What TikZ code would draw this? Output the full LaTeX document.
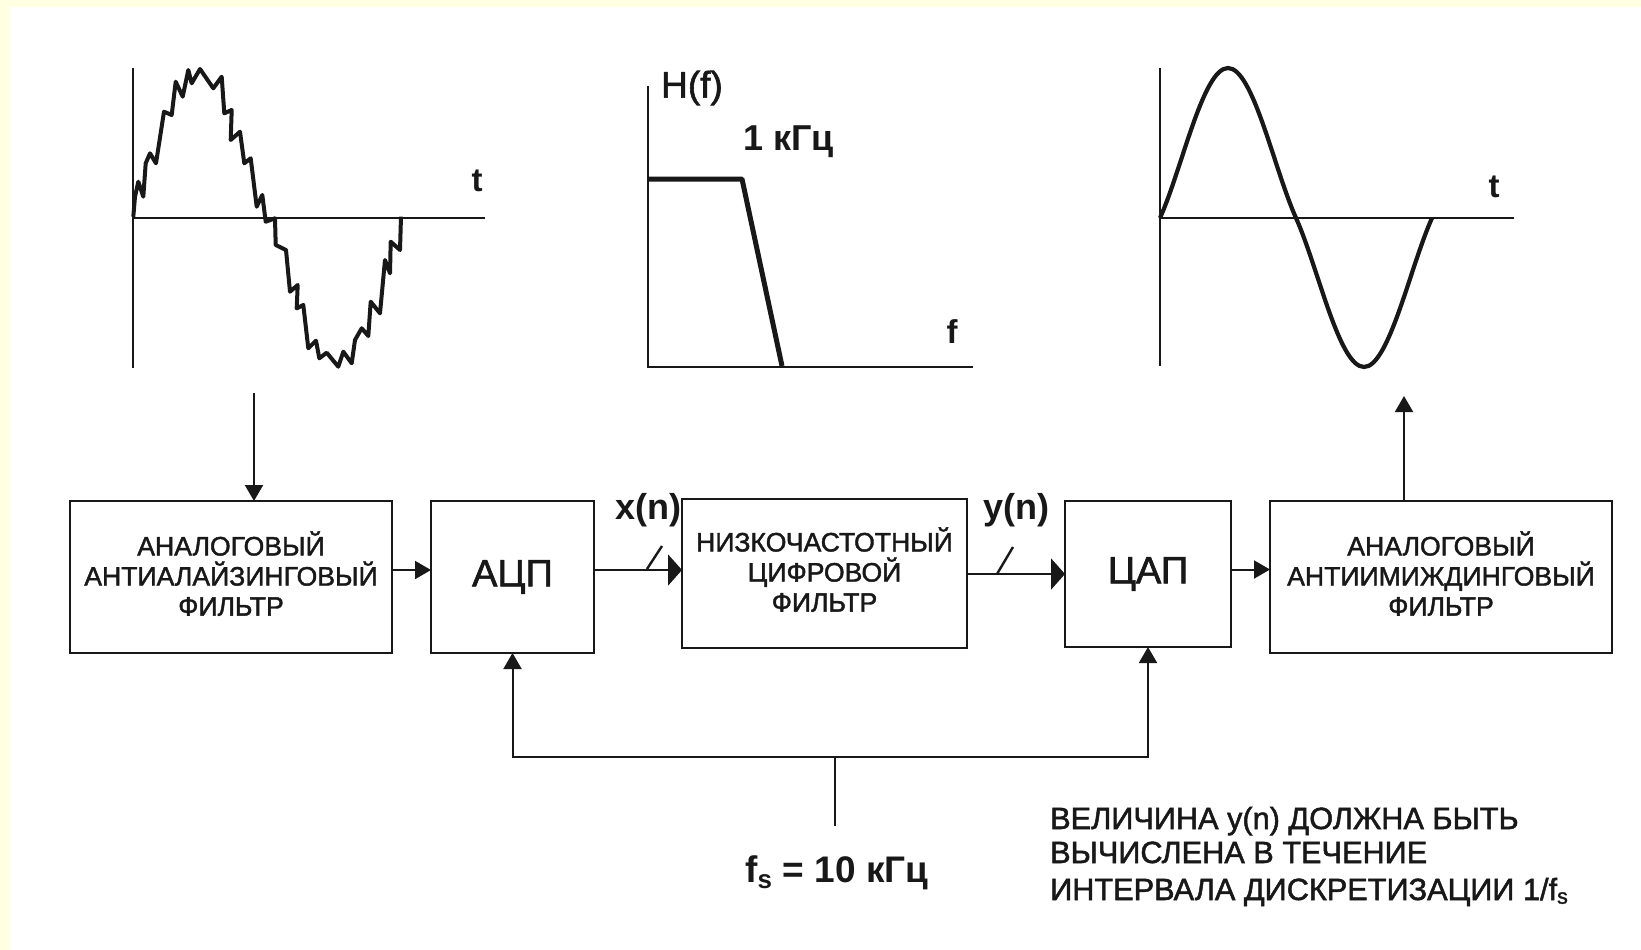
\documentclass[tikz,border=0pt]{standalone}
\usepackage{fontspec}
\setmainfont{Liberation Sans}
\newfontfamily\semib[FakeBold=1.6]{Liberation Sans}
\usetikzlibrary{arrows.meta,calc}
\definecolor{bgyellow}{RGB}{255,255,226}
\definecolor{inkc}{RGB}{24,24,24}
\newcommand{\fsz}[1]{\fontsize{#1}{#1}\selectfont}
\tikzset{
  x=1pt,y=-1pt,
  every node/.style={text=inkc},
  boxn/.style={draw=inkc,line width=2pt,fill=white,inner sep=0pt,outer sep=0pt,align=center},
  small/.style={font=\fsz{26.6}\semib,text depth=7pt},
  axisl/.style={draw=inkc,line width=2pt},
  curvel/.style={draw=inkc,line width=4.2pt,line join=round},
  conn/.style={draw=inkc,line width=2pt,-{Triangle[length=16pt,width=18pt]}},
  heavy/.style={draw=inkc,line width=2pt,-{Triangle[length=14pt,width=31pt]}},
  plainl/.style={draw=inkc,line width=2pt},
  tick/.style={draw=inkc,line width=2.4pt},
  lab/.style={font=\fsz{36}\bfseries,inner sep=0pt},
  axlab/.style={font=\fsz{33}\bfseries,inner sep=0pt},
  note/.style={font=\fsz{30.7}\semib,inner sep=0pt,anchor=base west},
}
\begin{document}
\begin{tikzpicture}[x=1pt,y=-1pt]
\useasboundingbox (0,0) rectangle (1641,950);
\fill[bgyellow] (0,0) rectangle (1641,950);
\fill[white] (10,7) rectangle (1641,950);
% first graph
\draw[axisl] (133,68) -- (133,368);
\draw[axisl] (133,218) -- (485,218);
\draw[curvel,line width=4pt] plot coordinates {
(133.3,216.7)(135,196.7)(138.3,181.7)(143.3,196.7)(145.7,163.3)(150,153.3)(156,163.3)
(164,111.7)(171.7,115)(175.7,81.7)(182.7,96.7)(188.3,70)(191.7,83.3)(200,69)(213.3,88.3)
(221.7,76.7)(224.3,113.3)(231.7,110)(230.7,140)(240,131.7)(244.3,163.3)(250.7,158.3)
(256.7,206.7)(262.3,195)(265.7,221.7)(275,218.3)(275.7,245)(286,250)(290,291.7)(297.7,285)
(296.7,308.3)(303.3,305)(308.3,348.3)(316,340.7)(319.3,358.3)(326.7,352.7)(338.3,366.7)
(343.3,351.7)(351.7,363.3)(355,340)(361.7,328.3)(368.3,336)(370.7,301.7)(380,313.3)
(385,260)(390,273.3)(390.7,241.7)(400,250)(401,216.7)};
\node[axlab] (t1) at (477,181) {t};
% second graph
\draw[axisl] (648,86) -- (648,366.5) -- (973,366.5);
\draw[curvel,line width=5pt] (648,179) -- (742,179) -- (782,366);
\node[font=\fsz{37}\semib,inner sep=0pt,anchor=west] (hf) at (661,88) {H(f)};
\node[lab,anchor=west] (kc) at (743,142) {1 кГц};
\node[axlab] (ff) at (952,332) {f};
% third graph
\draw[axisl] (1160,68) -- (1160,366);
\draw[axisl] (1160,218) -- (1514,218);
\draw[curvel] (1160,218) .. controls (1182,169) and (1203,68) .. (1228,68)
  .. controls (1253,68) and (1274,169) .. (1296,218)
  .. controls (1318,267) and (1339,367) .. (1364,367)
  .. controls (1389,367) and (1410,267) .. (1432,218);
\node[axlab] (t3) at (1494,187) {t};
% boxes
\node[boxn,small,minimum width=322pt,minimum height=152pt] (b1) at (231,577)
  {АНАЛОГОВЫЙ\\[3.5pt]АНТИАЛАЙЗИНГОВЫЙ\\[3.5pt]ФИЛЬТР};
\node[boxn,minimum width=163pt,minimum height=152pt,font=\fsz{38}\semib] (adc) at (512.5,577) {АЦП};
\node[boxn,small,minimum width=285pt,minimum height=149pt] (lpf) at (824.5,573)
  {НИЗКОЧАСТОТНЫЙ\\[3.5pt]ЦИФРОВОЙ\\[3.5pt]ФИЛЬТР};
\node[boxn,minimum width=166pt,minimum height=146pt,font=\fsz{38}\semib] (dac) at (1148,574) {ЦАП};
\node[boxn,small,minimum width=342pt,minimum height=152pt] (b5) at (1441,577)
  {АНАЛОГОВЫЙ\\[3.5pt]АНТИИМИЖДИНГОВЫЙ\\[3.5pt]ФИЛЬТР};
% connectors
\coordinate (inp) at (254,393);
\coordinate (outp) at (1404,396);
\coordinate (stem) at (835,826);
\coordinate (junc) at (835,757);
\draw[conn] (inp) -- (inp|-b1.north);
\draw[conn] ($(b1.east)+(0,7pt)$) -- ($(adc.west)+(0,7pt)$);
\draw[heavy] ($(adc.east)+(0,7pt)$) coordinate (xs) -- (lpf.west|-xs);
\draw[heavy] (lpf.east) ++(0,-1pt) coordinate (ys) -- (dac.west|-ys);
\draw[conn] ($(dac.east)+(0,4.5pt)$) coordinate (ds) -- (b5.west|-ds);
\draw[conn] (outp|-b5.north) -- (outp);
\draw[plainl] (stem) -- (junc);
\draw[conn] (junc) -| (adc.south);
\draw[conn] (junc) -| (dac.south);
% slashes
\draw[tick] (647,569) coordinate (s1a) -- (662,546) coordinate (s1b);
\draw[tick] (997,574) coordinate (s2a) -- (1013,547) coordinate (s2b);
% labels
\node[lab,anchor=west] (xn) at (615,510) {x(n)};
\node[lab,anchor=west] (yn) at (983,510) {y(n)};
\node[font=\fsz{37}\bfseries,inner sep=0pt,anchor=west] (fs) at (745,873) {f\textsubscript{s} = 10 кГц};
\node[note] (n1) at (1050,829) {ВЕЛИЧИНА y(n) ДОЛЖНА БЫТЬ};
\node[note] (n2) at (1050,863) {ВЫЧИСЛЕНА В ТЕЧЕНИЕ};
\node[note] (n3) at (1050,900) {ИНТЕРВАЛА ДИСКРЕТИЗАЦИИ 1/f\textsubscript{s}};
\end{tikzpicture}
\end{document}
